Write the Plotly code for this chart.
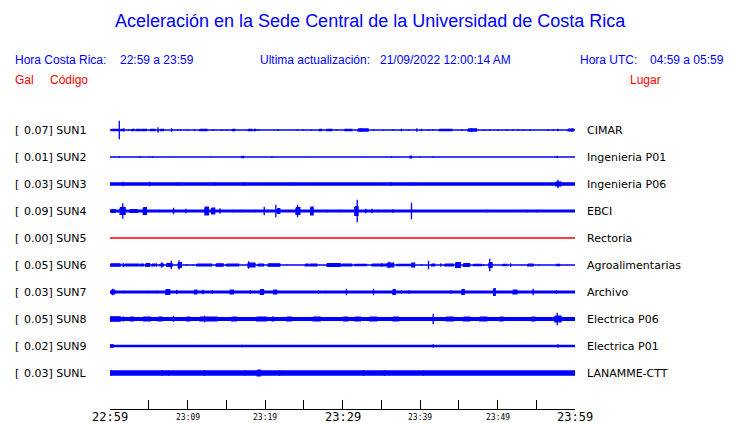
import plotly.graph_objects as go

# ---------------- data ----------------
codes = ["SUN1", "SUN2", "SUN3", "SUN4", "SUN5", "SUN6", "SUN7", "SUN8", "SUN9", "SUNL"]
peak_gal = ["0.07", "0.01", "0.03", "0.09", "0.00", "0.05", "0.03", "0.05", "0.02", "0.03"]
places = ["CIMAR", "Ingenieria P01", "Ingenieria P06", "EBCI", "Rectoria",
          "Agroalimentarias", "Archivo", "Electrica P06", "Electrica P01", "LANAMME-CTT"]
# background noise level per station (display amplitude)
noise_level = [0.6, 0.5, 1.7, 1.4, 0.6, 0.6, 1.4, 2.0, 1.3, 2.7]

# events per station: (start minute, end minute, display amplitude)
SUN1_events = [(0.2, 1.1, 1.3), (1.2, 1.2, 10), (1.4, 1.7, 1.3), (1.8, 1.8, 2.5), (2.4, 2.4, 1.5),
               (2.8, 3.1, 1.3), (3.4, 3.9, 1.3), (4.1, 4.7, 1.3), (5.2, 5.8, 1.3), (6.2, 6.2, 3.5),
               (6.5, 6.9, 1.3), (7.95, 7.95, 2.5), (8.7, 8.7, 1.5), (9.1, 9.1, 1.5), (10.0, 10.0, 1.5),
               (10.9, 10.9, 1.5), (11.6, 12.5, 1.3), (13.3, 13.3, 1.5), (14.4, 14.4, 1.5),
               (15.05, 15.05, 1.5), (15.8, 16.1, 1.3), (17.85, 18.3, 1.3), (18.6, 18.8, 1.3),
               (19.2, 19.2, 1.5), (21.7, 21.7, 1.5), (24.2, 24.2, 1.5), (24.9, 24.9, 1.5),
               (26.0, 26.0, 1.5), (27.0, 27.3, 1.3), (27.95, 28.6, 1.3), (29.2, 29.2, 1.5),
               (30.3, 31.2, 1.3), (32.0, 33.3, 1.7), (32.4, 32.4, 2.5), (34.0, 34.0, 1.5),
               (35.3, 35.3, 1.2), (36.5, 36.5, 1.5), (37.6, 37.6, 2), (38.5, 38.5, 1.5),
               (39.6, 39.6, 2.5), (40.2, 40.2, 2), (41.1, 41.1, 1.5), (41.7, 41.7, 1.5),
               (42.5, 44.1, 1.3), (45.4, 45.4, 1.5), (46.2, 47.3, 1.7), (46.6, 46.6, 2.5),
               (48.2, 48.2, 1.5), (49.0, 49.0, 1.5), (50.1, 50.1, 1.5), (51.2, 51.2, 1.5),
               (52.0, 52.0, 1.5), (52.7, 52.7, 1.5), (53.3, 53.3, 1.5), (54.2, 54.2, 1.5),
               (56.5, 56.5, 1.5), (57.2, 57.2, 1.5), (57.8, 57.8, 2), (59.1, 59.8, 1.6),
               (59.6, 59.6, 2.5)]
SUN2_events = [(0.6, 0.6, 1), (1.2, 1.2, 1.5), (3.9, 3.9, 1.5), (5.1, 5.1, 1.2), (5.5, 5.5, 1.5),
               (8.2, 8.2, 1), (13.0, 13.0, 1), (17.0, 17.2, 1.3), (20.9, 20.9, 1.5), (25.8, 25.8, 1),
               (32.3, 32.3, 1), (32.7, 32.7, 1), (35.7, 35.7, 1), (36.3, 36.3, 1.5), (36.7, 36.7, 1),
               (38.7, 38.9, 1.5), (40.0, 40.0, 1.2), (41.7, 41.7, 1.5), (57.4, 57.4, 1.2), (57.7, 57.7, 2)]
SUN3_events = [(1.7, 1.7, 3), (5.1, 5.1, 3), (8.8, 8.8, 2.5), (13.5, 13.5, 2.5), (17.2, 17.2, 2.5),
               (23.7, 23.7, 2.2), (36.3, 36.3, 2.5), (39.1, 39.1, 2.2), (57.5, 58.2, 2.6), (57.8, 57.8, 5)]
SUN4_events = [(0.2, 0.65, 2), (1.3, 1.95, 4), (1.65, 1.65, 8.5), (2.6, 3.5, 2), (4.3, 4.7, 4),
               (6.4, 6.4, 2), (8.2, 8.2, 4), (9.8, 9.8, 3), (12.25, 12.7, 4.5), (13.1, 13.5, 3.5),
               (14.2, 14.2, 3.5), (15.9, 15.9, 2), (17.0, 17.0, 2), (18.7, 18.7, 2), (19.9, 19.9, 5),
               (20.4, 20.4, 2), (21.4, 21.4, 7), (21.6, 21.9, 3), (24.0, 24.5, 4), (24.2, 24.2, 7),
               (25.9, 26.2, 4.5), (28.0, 28.0, 2), (29.7, 29.7, 2), (31.6, 32.0, 5), (31.9, 31.9, 12),
               (33.0, 33.0, 3), (33.8, 33.8, 3), (34.6, 34.6, 2), (35.7, 35.7, 2), (36.5, 36.5, 2.5),
               (38.9, 38.9, 9), (48.6, 48.6, 2), (50.5, 50.5, 1.5), (53.8, 53.8, 2), (55.1, 55.1, 2),
               (56.3, 56.3, 1.5), (57.6, 57.6, 1.5), (58.9, 58.9, 1.5)]
SUN5_events = []
SUN6_events = [(0.1, 1.3, 1.8), (1.7, 1.7, 3), (1.9, 3.7, 1.5), (3.9, 4.3, 1.5), (4.6, 5.1, 2),
               (5.4, 5.8, 1.5), (6.0, 6.0, 2.5), (6.45, 6.9, 1.5), (6.7, 6.7, 3.5), (7.3, 8.0, 2),
               (7.9, 7.9, 5), (8.8, 9.2, 3), (8.9, 8.9, 5.5), (9.9, 9.9, 1.5), (10.7, 10.7, 1.2),
               (11.2, 13.1, 1.5), (13.7, 14.6, 1.8), (15.0, 16.6, 1.5), (17.8, 18.7, 2.5),
               (17.9, 17.9, 4.5), (19.1, 19.8, 1.5), (20.4, 21.9, 1.8), (22.8, 22.8, 1.2),
               (25.2, 25.6, 1.5), (25.8, 26.7, 1.5), (28.0, 29.7, 2), (29.9, 31.2, 1.5),
               (31.6, 33.1, 1.3), (33.8, 35.7, 1.5), (35.05, 35.05, 2.5), (35.8, 36.6, 2.5),
               (36.0, 36.0, 4), (37.0, 38.7, 1.2), (38.9, 39.3, 2.5), (40.2, 40.2, 1.5),
               (41.1, 41.1, 5), (41.5, 41.9, 1.5), (42.7, 42.7, 2.5), (43.2, 44.3, 1.5),
               (44.6, 45.2, 3), (45.6, 46.4, 2), (46.9, 47.9, 1.2), (48.2, 48.2, 1.5),
               (48.9, 49.3, 3), (49.0, 49.0, 7), (50.7, 51.2, 1.2), (51.7, 51.7, 2.5),
               (53.1, 53.1, 1.0), (53.9, 54.6, 1.5), (55.4, 55.4, 1.2), (57.6, 58.0, 1.2),
               (58.9, 58.9, 1.0)]
SUN7_events = [(0.2, 0.6, 2.5), (0.35, 0.35, 4), (1.8, 1.8, 2), (4.8, 4.8, 2), (6.1, 6.1, 2),
               (7.2, 7.7, 3), (8.6, 8.6, 3), (10.9, 11.2, 2.5), (12.0, 12.0, 3), (13.2, 13.2, 2.5),
               (15.5, 15.9, 2.5), (18.1, 18.1, 2.5), (19.4, 19.8, 3), (21.1, 21.5, 2.5),
               (25.2, 25.2, 1.5), (26.9, 26.9, 2.5), (27.8, 27.8, 2), (30.5, 30.5, 4), (34.0, 34.0, 4),
               (36.5, 36.8, 3), (37.6, 37.6, 2.5), (38.6, 38.6, 2.5), (44.0, 44.0, 2.5),
               (45.4, 45.7, 3), (49.5, 49.7, 4), (52.0, 52.5, 2.5), (54.6, 54.6, 4), (57.6, 57.6, 2.5)]
SUN8_events = [(0.0, 1.3, 2.8), (1.7, 1.7, 3.5), (2.6, 3.0, 2.6), (4.3, 5.2, 2.6), (6.2, 6.7, 2.6),
               (8.2, 8.2, 3.5), (9.9, 10.3, 2.6), (11.6, 13.8, 2.6), (12.2, 12.2, 4), (15.7, 16.3, 2.6),
               (18.9, 20.2, 2.6), (20.9, 21.1, 2.6), (22.8, 23.4, 2.6), (24.5, 24.5, 2.6),
               (26.2, 27.1, 2.6), (28.1, 28.1, 2.6), (30.1, 30.7, 2.6), (31.6, 32.3, 2.6),
               (33.5, 34.4, 2.6), (36.5, 37.2, 2.6), (38.9, 38.9, 2.6), (40.6, 40.6, 2.6),
               (41.7, 41.7, 6), (43.4, 44.3, 2.6), (45.6, 46.4, 2.6), (47.7, 48.6, 2.6),
               (50.3, 50.7, 2.6), (52.0, 52.0, 2.6), (54.4, 54.8, 2.6), (57.4, 58.2, 3.5),
               (57.7, 57.7, 7), (59.1, 59.1, 2.6)]
SUN9_events = [(0.0, 0.4, 1.8), (17.0, 17.0, 1.8), (41.7, 41.7, 2.5), (57.8, 57.8, 2.5)]
SUNL_events = [(0.2, 0.2, 3.5), (6.7, 6.7, 3.5), (7.6, 7.6, 3.2), (12.2, 12.2, 3.5), (17.4, 17.4, 3.2),
               (19.0, 19.4, 3.5), (21.9, 21.9, 3.5), (32.7, 32.7, 3.5), (35.4, 35.4, 3.5),
               (40.4, 40.4, 3.2), (59.9, 59.9, 3.2)]
station_events = [SUN1_events, SUN2_events, SUN3_events, SUN4_events, SUN5_events,
                  SUN6_events, SUN7_events, SUN8_events, SUN9_events, SUNL_events]

tick_minutes = list(range(0, 61, 5))
label_minutes = [0, 10, 20, 30, 40, 50, 60]
label_text = ["22:59", "23:09", "23:19", "23:29", "23:39", "23:49", "23:59"]
label_major = [True, False, False, True, False, False, True]

# ---------------- layout geometry ----------------
W, H = 740, 423
ML, MR, MT, MB = 110, 165, 100, 14
PW, PH = W - ML - MR, H - MT - MB
ROW0, ROWSTEP = 130, 27          # pixel centre of first row, row spacing
T_END = 60.0
LW = 1.3
BLUE, RED = "#0000ff", "#ff0000"


def px_x(px):
    return (px - ML) / PW


def px_y(py):
    return (H - MB - py) / PH


y_top = (MT - ROW0) / ROWSTEP
y_bot = (H - MB - ROW0) / ROWSTEP

fig = go.Figure()

for i, evs in enumerate(station_events):
    col = RED if peak_gal[i] == "0.00" else BLUE
    xs, ys = [], []
    rects = [(0.0, T_END, noise_level[i])] + list(evs)
    for t0, t1, a in rects:
        h = max(a - LW / 2, 0) / ROWSTEP
        xs += [t0, t1, t1, t0, t0, None]
        ys += [i - h, i - h, i + h, i + h, i - h, None]
    fig.add_trace(go.Scatter(x=xs, y=ys, mode="lines", fill="toself", fillcolor=col,
                             line=dict(color=col, width=LW), hoverinfo="skip",
                             showlegend=False))

annos = []
lab_font = dict(family="DejaVu Sans", size=11, color="black")
for i in range(len(codes)):
    yp = px_y(ROW0 + ROWSTEP * i)
    annos.append(dict(x=px_x(13), y=yp, xref="paper", yref="paper", text="[",
                      xanchor="left", yanchor="middle", showarrow=False, font=lab_font))
    annos.append(dict(x=px_x(89), y=yp, xref="paper", yref="paper",
                      text=f"{peak_gal[i]}] {codes[i]}",
                      xanchor="right", yanchor="middle", showarrow=False, font=lab_font))
    annos.append(dict(x=px_x(585), y=yp, xref="paper", yref="paper", text=places[i],
                      xanchor="left", yanchor="middle", showarrow=False, font=lab_font))

for m, t, big in zip(label_minutes, label_text, label_major):
    annos.append(dict(x=m, y=px_y(417), xref="x", yref="paper", text=t,
                      xanchor="center", yanchor="middle", showarrow=False,
                      font=dict(family="DejaVu Sans Mono", size=12 if big else 8, color="black")))

hfont = dict(family="Liberation Sans", size=12, color=BLUE)
rfont = dict(family="Liberation Sans", size=12, color=RED)
header = [
    ("Hora Costa Rica:", 13, 60, "left", hfont),
    ("22:59 a 23:59", 118, 60, "left", hfont),
    ("Ultima actualización:", 258, 60, "left", hfont),
    ("21/09/2022 12:00:14 AM", 378, 60, "left", hfont),
    ("Hora UTC:", 578, 60, "left", hfont),
    ("04:59 a 05:59", 648, 60, "left", hfont),
    ("Gal", 13, 80, "left", rfont),
    ("Código", 48, 80, "left", rfont),
    ("Lugar", 628, 80, "left", rfont),
]
for txt, x, y, anc, f in header:
    annos.append(dict(x=px_x(x), y=px_y(y), xref="paper", yref="paper", text=txt,
                      xanchor=anc, yanchor="middle", showarrow=False, font=f))
annos.append(dict(x=px_x(370), y=px_y(21), xref="paper", yref="paper",
                  text="Aceleración en la Sede Central de la Universidad de Costa Rica",
                  xanchor="center", yanchor="middle", showarrow=False,
                  font=dict(family="Liberation Sans", size=18, color=BLUE)))

fig.update_layout(
    width=W, height=H,
    margin=dict(l=ML, r=MR, t=MT, b=MB, autoexpand=False),
    paper_bgcolor="white", plot_bgcolor="white",
    annotations=annos,
    xaxis=dict(range=[0, T_END], showgrid=False, zeroline=False, showline=True,
               linecolor="black", linewidth=1, ticks="inside", ticklen=9, tickwidth=1,
               tickcolor="black", tickvals=tick_minutes, showticklabels=False, fixedrange=True),
    yaxis=dict(range=[y_bot, y_top], visible=False, fixedrange=True),
)

fig.write_html("out.html", config={"displayModeBar": False},
               post_script="document.body.style.margin='0';document.body.style.padding='0';")
